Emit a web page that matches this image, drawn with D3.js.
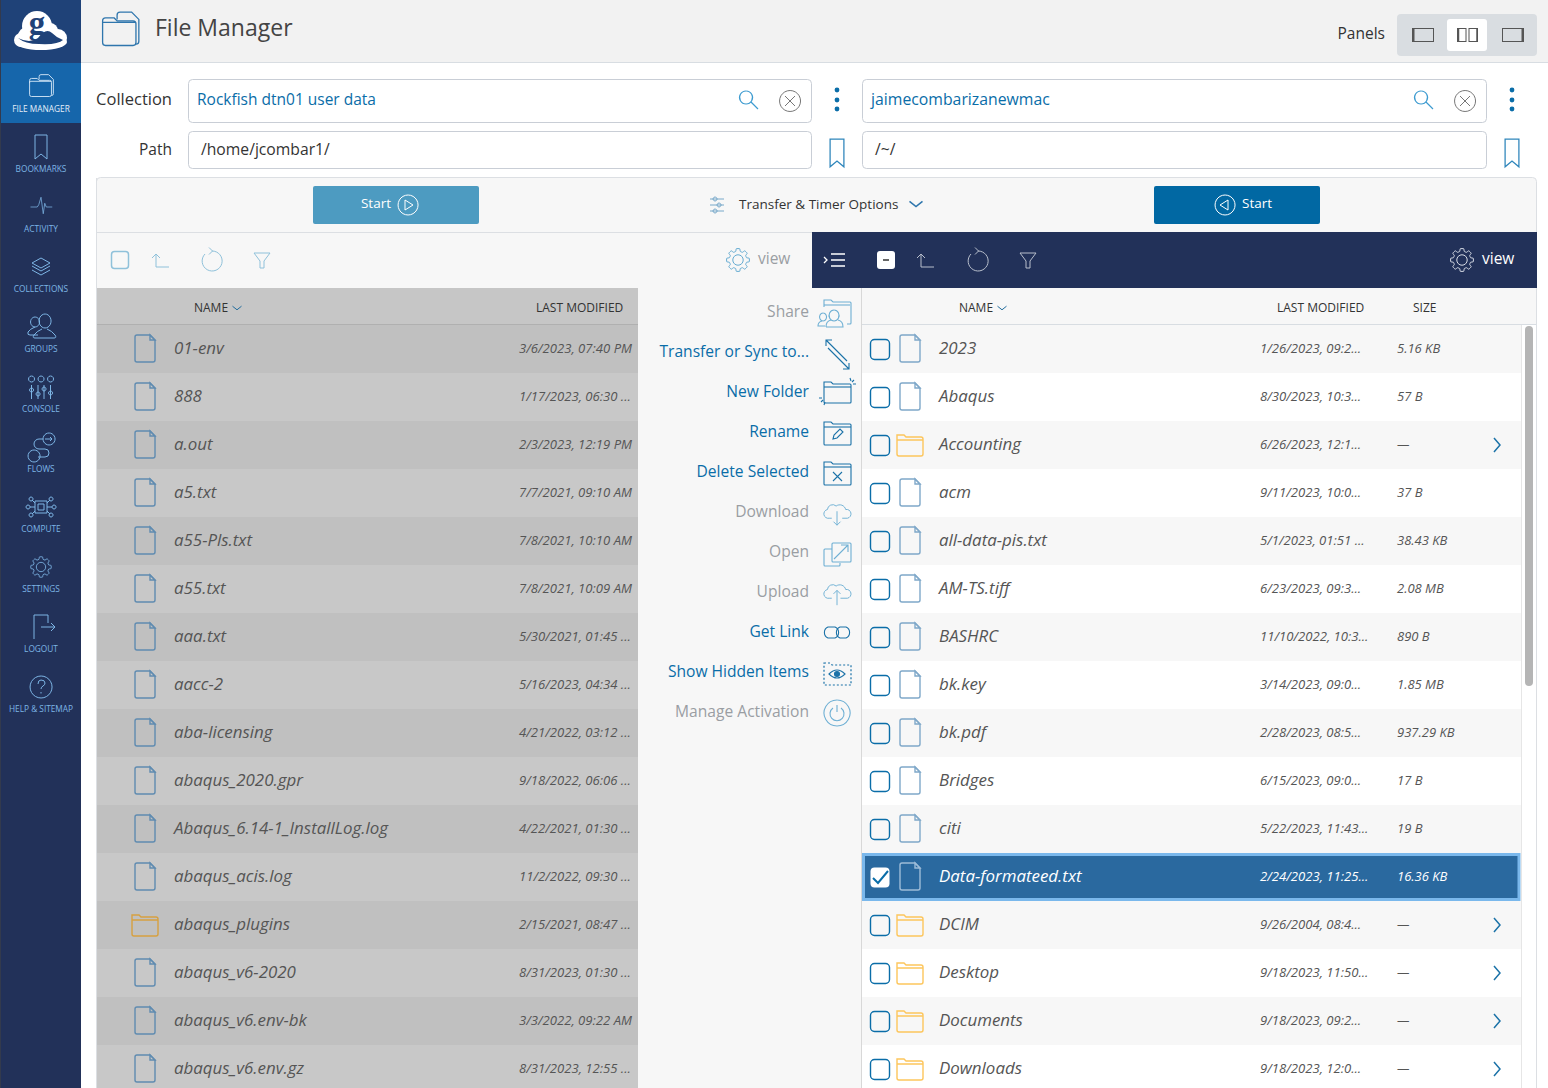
<!DOCTYPE html>
<html>
<head>
<meta charset="utf-8">
<title>File Manager</title>
<script src="https://cdn.jsdelivr.net/npm/d3@7"></script>
<style>
  html, body { margin: 0; padding: 0; background: #fff; overflow: hidden; }
  svg { display: block; }
  text { font-family: "Open Sans", sans-serif; }
</style>
</head>
<body>
<svg id="page" width="1548" height="1088"></svg>
<script>
// sidebar
var navLabels = ['FILE MANAGER', 'BOOKMARKS', 'ACTIVITY', 'COLLECTIONS', 'GROUPS', 'CONSOLE', 'FLOWS', 'COMPUTE', 'SETTINGS', 'LOGOUT', 'HELP & SITEMAP'];
var navIcons = ['fileManager', 'bookmark', 'pulse', 'stack', 'groups', 'console', 'flows', 'compute', 'gear', 'logout', 'help'];

// middle column
var actionLabels = ['Share', 'Transfer or Sync to...', 'New Folder', 'Rename', 'Delete Selected', 'Download', 'Open', 'Upload', 'Get Link', 'Show Hidden Items', 'Manage Activation'];
var actionIcons = ['share', 'transfer', 'newFolder', 'rename', 'deleteSel', 'download', 'open', 'upload', 'link', 'hidden', 'power'];
var actionEnabled = [0, 1, 1, 1, 1, 0, 0, 0, 1, 1, 0];

// left listing
var leftNames = ['01-env', '888', 'a.out', 'a5.txt', 'a55-Pls.txt', 'a55.txt', 'aaa.txt', 'aacc-2', 'aba-licensing', 'abaqus_2020.gpr', 'Abaqus_6.14-1_InstallLog.log', 'abaqus_acis.log', 'abaqus_plugins', 'abaqus_v6-2020', 'abaqus_v6.env-bk', 'abaqus_v6.env.gz'];
var leftDates = ['3/6/2023, 07:40 PM', '1/17/2023, 06:30 ...', '2/3/2023, 12:19 PM', '7/7/2021, 09:10 AM', '7/8/2021, 10:10 AM', '7/8/2021, 10:09 AM', '5/30/2021, 01:45 ...', '5/16/2023, 04:34 ...', '4/21/2022, 03:12 ...', '9/18/2022, 06:06 ...', '4/22/2021, 01:30 ...', '11/2/2022, 09:30 ...', '2/15/2021, 08:47 ...', '8/31/2023, 01:30 ...', '3/3/2022, 09:22 AM', '8/31/2023, 12:55 ...'];
var leftFolder = [0, 0, 0, 0, 0, 0, 0, 0, 0, 0, 0, 0, 1, 0, 0, 0];

// right listing
var rightNames = ['2023', 'Abaqus', 'Accounting', 'acm', 'all-data-pis.txt', 'AM-TS.tiff', 'BASHRC', 'bk.key', 'bk.pdf', 'Bridges', 'citi', 'Data-formateed.txt', 'DCIM', 'Desktop', 'Documents', 'Downloads'];
var rightDates = ['1/26/2023, 09:2...', '8/30/2023, 10:3...', '6/26/2023, 12:1...', '9/11/2023, 10:0...', '5/1/2023, 01:51 ...', '6/23/2023, 09:3...', '11/10/2022, 10:3...', '3/14/2023, 09:0...', '2/28/2023, 08:5...', '6/15/2023, 09:0...', '5/22/2023, 11:43...', '2/24/2023, 11:25...', '9/26/2004, 08:4...', '9/18/2023, 11:50...', '9/18/2023, 09:2...', '9/18/2023, 12:0...'];
var rightSizes = ['5.16 KB', '57 B', '—', '37 B', '38.43 KB', '2.08 MB', '890 B', '1.85 MB', '937.29 KB', '17 B', '19 B', '16.36 KB', '—', '—', '—', '—'];
var rightFolder = [0, 0, 1, 0, 0, 0, 0, 0, 0, 0, 0, 0, 1, 1, 1, 1];
var selectedRow = 11;

var svg = d3.select('#page');

function box(g, x, y, w, h, fill, stroke, r) {
  return g.append('rect').attr('x', x).attr('y', y).attr('width', w).attr('height', h)
    .attr('fill', fill).attr('stroke', stroke || 'none').attr('rx', r || 0);
}

function label(g, x, y, str, size, color, anchor, style) {
  return g.append('text').attr('x', x).attr('y', y).attr('font-size', size).attr('fill', color)
    .attr('text-anchor', anchor || 'start').attr('font-style', style || 'normal')
    .attr('dominant-baseline', 'central').text(str);
}

// gear outline, outer and inner radius with 8 teeth
function gearPath(r) {
  var pts = [], n = 8;
  for (var i = 0; i < n; i++) {
    var a = i / n * Math.PI * 2;
    [[-0.26, r * 0.78], [-0.15, r], [0.15, r], [0.26, r * 0.78]].forEach(function(p) {
      pts.push([Math.sin(a + p[0]) * p[1], -Math.cos(a + p[0]) * p[1]]);
    });
  }
  return d3.line().curve(d3.curveCardinalClosed.tension(0.6))(pts);
}

// line icons, all drawn around 0,0
var folderBody = 'M-13,-11 h7 l2,2 h17 q1,0 1,1 v19 q0,1 -1,1 h-25 q-1,0 -1,-1 z';
var iconPaths = {
  fileManager: ['M-12,-4 v-3 q0,-2 2,-2 h6 l2,2 h11 q2,0 2,2 v13 q0,2 -2,2 h-19 q-2,0 -2,-2 v-14 h23', 'M-2,-8 v-3 q0,-2 2,-2 h8 l5,5 v15 q0,2 -2,2'],
  bookmark: ['M-6,-12 h12 v24 l-6,-5 l-6,5 z'],
  pulse: ['M-14,0 h9 l2,-3 l3,-10 l3,22 l2,-14 l2,5 h8'],
  stack: ['M0,-9 l9,5 l-9,5 l-9,-5 z', 'M-9,-1 l9,5 l9,-5', 'M-9,3 l9,5 l9,-5'],
  groups: ['M-6,-10 a4.5,5 0 1 0 0.1,0', 'M4,-13 a6,7 0 1 0 0.1,0', 'M-3,8 h-8 q-3,0 -2,-3 q2,-3 7,-5', 'M-6,11 h19 q3,0 1,-3 q-3,-4 -8,-6 M-6,11 q-3,0 -1,-3 q3,-4 8,-6'],
  console: ['M-9.5,-11 a3,3 0 1 0 0.1,0 M0,-11 a3,3 0 1 0 0.1,0 M9.5,-11 a3,3 0 1 0 0.1,0', 'M-9.5,-2 v14 M-3,-2 v14 M3,-2 v14 M9.5,-2 v14', 'M-9.5,1 a2,2 0 1 0 0.1,0 M-3,5 a2,2 0 1 0 0.1,0 M3,0 a2,2 0 1 0 0.1,0 M9.5,4 a2,2 0 1 0 0.1,0'],
  flows: ['M8,-14 a6,6 0 1 0 0.1,0 M4,-8 h7 M9,-10 l2,2 l-2,2', 'M-7,3 a6,6 0 1 0 0.1,0', 'M2,-8 h-4 a5,5 0 0 0 0,10 h6 a4,4 0 0 1 0,8 h-7'],
  compute: ['M-6,-6 h12 v12 h-12 z M-3,-3 h6 v6 h-6 z', 'M-11,0 h5 M6,0 h5 M-9,-7 l3,3 M9,-7 l-3,3 M-9,7 l3,-3 M9,7 l-3,-3',
    'M-13,-2 a2,2 0 1 0 0.1,0 M13,-2 a2,2 0 1 0 0.1,0 M-10,-10 a2,2 0 1 0 0.1,0 M10,-10 a2,2 0 1 0 0.1,0 M-10,6 a2,2 0 1 0 0.1,0 M10,6 a2,2 0 1 0 0.1,0'],
  gear: [],
  logout: ['M7,-4 v-8 h-14 v24', 'M0,0 h14 M10,-4 l4,4 l-4,4'],
  help: ['M0,-11 a11,11 0 1 0 0.1,0', 'M-3,-3 q0,-4 3,-4 q4,0 4,3 q0,2 -2,3 q-2,1 -2,3 M0,5 v1.5'],
  share: ['M-13,-6 v-7 h7 l2,2 h17 q1,0 1,1 v20 q0,1 -1,1 h-3', 'M-13,-8 h26', 'M-3,-3 a5,5.5 0 1 0 0.1,0', 'M-14,0 a3.5,4 0 1 0 0.1,0', 'M-11,14 h17 q0,-6 -5,-7 M-11,14 q0,-6 5,-7 M-12,13 h-7 q0,-4 4,-5'],
  transfer: ['M-11,-13 l21,21 M-5,-13 h-6 v6', 'M-9,-5 l21,21 M12,10 v6 h-6'],
  newFolder: [folderBody.replace('v19', 'v17'), 'M-13,-6 h27', 'M17,-13 l-2,2 M19,-9 h-3 M13,-15 l1,3 M-16,9 l2,-2 M-18,5 h3 M-13,12 l1,-3'],
  rename: [folderBody, 'M-13,-6 h27', 'M-4,6 l1,-4 l6,-6 l3,3 l-6,6 z'],
  deleteSel: [folderBody, 'M-13,-6 h27', 'M-4,-1 l9,9 M5,-1 l-9,9'],
  download: ['M-6,6 h-3 a5,5 0 0 1 -2,-10 a6,6 0 0 1 10,-4 a7,7 0 0 1 11,4 a5,5 0 0 1 2,10 h-6', 'M0,-2 v16 M-4,10 l4,4 l4,-4'],
  open: ['M-5,-9 q0,-1 1,-1 h17 q1,0 1,1 v17 q0,1 -1,1 h-17 q-1,0 -1,-1 z', 'M-5,-4 h-7 q-1,0 -1,1 v15 q0,1 1,1 h14 q1,0 1,-1 v-2', 'M-3,6 l14,-14 M4,-8 h7 v7'],
  upload: ['M-6,6 h-3 a5,5 0 0 1 -2,-10 a6,6 0 0 1 10,-4 a7,7 0 0 1 11,4 a5,5 0 0 1 2,10 h-8', 'M0,-3 v17 M-4,1 l4,-4 l4,4'],
  link: ['M-2,-6 h-7 a6,6 0 0 0 0,11 h7 a6,6 0 0 0 0,-11 z', 'M3,-6 h6 a6,6 0 0 1 0,11 h-6 a6,6 0 0 1 0,-11 z'],
  hidden: ['M-13,-10 h6 l2,2 h19 v20 h-27 z'],
  power: ['M0,-13 a13,13 0 1 0 0.1,0', 'M-4,-5 a7,7 0 1 0 8,0 M0,-8 v7'],
  up: ['M-8,-3 l4,-4 l4,4 M-4,-6 v12 h13'],
  refresh: ['M0,-10 A10,10 0 1 1 -7,-7', 'M-3,-13.5 l3.5,3.5 l-3.5,3.5'],
  filter: ['M-8,-7 h16 l-6,8 v7 h-4 v-7 z'],
  search: ['M-3,-9 a6.5,6.5 0 1 0 0.1,0 M2,2 l7,7'],
  clear: ['M0,-10.5 a10.5,10.5 0 1 0 0.1,0 M-5,-5 l10,10 M5,-5 l-10,10'],
  sliders: ['M-7,-6 h14 M-7,0 h14 M-7,6 h14', 'M-2,-8 a2,2 0 1 0 0.1,0 M2,-2 a2,2 0 1 0 0.1,0 M-2,4 a2,2 0 1 0 0.1,0'],
  file: ['M-8,-13 h13 l5,5 v20 q0,2 -2,2 h-16 q-2,0 -2,-2 v-23 q0,-2 2,-2 z', 'M5,-13 v5 h5 z'],
  folder: ['M-13,-10 h7 l2,2 h15 q2,0 2,2 v15 q0,2 -2,2 h-22 q-2,0 -2,-2 z M-13,-5 h26'],
  chevDown: ['M-5,-2 l5,4 l5,-4'],
  chevRight: ['M-3,-7 l6,7 l-6,7'],
  playL: ['M3,-5 l-8,5 l8,5 z M0,-10 a10,10 0 1 0 0.1,0'],
  playR: ['M-3,-5 l8,5 l-8,5 z M0,-10 a10,10 0 1 0 0.1,0']
};

function icon(g, name, x, y, color, width, scale) {
  var t = g.append('g').attr('transform', 'translate(' + x + ',' + y + ') scale(' + (scale || 1) + ')')
    .attr('fill', 'none').attr('stroke', color).attr('stroke-width', width || 1.2);
  if (name == 'gear') {
    t.append('path').attr('d', gearPath(12));
    t.append('circle').attr('r', 5.5);
  } else {
    iconPaths[name].forEach(function(d) { t.append('path').attr('d', d); });
  }
  return t;
}

// ---------- sidebar ----------
var side = svg.append('g');
box(side, 0, 0, 81, 1088, '#223159');
box(side, 0, 0, 81, 63, '#1f4278');
box(side, 0, 63, 81, 60, '#1666ab');
box(side, 0, 0, 1, 1088, '#333a4d');

// logo, the cloud is a few overlapping blobs
var logo = side.append('g').attr('fill', '#fff');
[[37, 26, 15], [27, 36, 9], [50, 31, 8], [58, 38, 9], [21, 40, 7]].forEach(function(c) {
  logo.append('circle').attr('cx', c[0]).attr('cy', c[1]).attr('r', c[2]);
});
logo.append('ellipse').attr('cx', 41).attr('cy', 42).attr('rx', 26).attr('ry', 8);
side.append('path').attr('d', 'M18,38 q12,6 20,0 q8,-11 14,-5 q5,5 11,7 q-5,5 -24,4 q-14,0 -21,-6 z').attr('fill', '#1f4278');
logo.append('ellipse').attr('cx', 39).attr('cy', 41).attr('rx', 12).attr('ry', 3);
label(side, 37, 23, 'g', 33, '#1f4278', 'middle').attr('font-weight', 'bold').style('font-family', 'Liberation Serif, serif');

var navY = d3.scaleLinear().domain([0, 1]).range([87, 147]);
var navScale = { pulse: 0.75, compute: 1, gear: 0.85, bookmark: 1, fileManager: 0.95 };
navLabels.forEach(function(d, i) {
  var c = i == 0 ? '#cfe3f4' : '#7db5e5';
  icon(side, navIcons[i], 41, navY(i), c, 1, navScale[navIcons[i]] || 1);
  label(side, 41, navY(i) + 21.5, d, 8.3, i == 0 ? '#e4eff9' : '#7db5e5', 'middle');
});

// ---------- header ----------
var head = svg.append('g');
box(head, 81, 0, 1467, 62, '#f2f2f2');
head.append('line').attr('x1', 81).attr('x2', 1548).attr('y1', 62.5).attr('y2', 62.5).attr('stroke', '#d8dde2');
icon(head, 'fileManager', 120, 31, '#2f76ad', 0.9, 1.45);
label(head, 155, 27, 'File Manager', 23, '#444');
label(head, 1385, 33, 'Panels', 15.5, '#333', 'end');
box(head, 1397, 14, 140, 42, '#d9dde1', null, 4);
box(head, 1447, 19, 40, 32, '#fff', null, 3);
[1412, 1502].forEach(function(x, i) {
  var pg = head.append('g').attr('fill', 'none').attr('stroke', '#555');
  pg.append('rect').attr('x', x + 0.5).attr('y', 28.5).attr('width', 21).attr('height', 13);
  var edge = i == 0 ? x + 1.5 : x + 20.5;
  pg.append('line').attr('x1', edge).attr('x2', edge).attr('y1', 28).attr('y2', 42).attr('stroke-width', 2);
});
[1457.5, 1469].forEach(function(x, i) {
  head.append('rect').attr('x', x).attr('y', 28.5).attr('width', 8.5).attr('height', 13)
    .attr('fill', 'none').attr('stroke', '#555');
  var edge = i == 0 ? x + 1 : x + 8;
  head.append('line').attr('x1', edge).attr('x2', edge).attr('y1', 28).attr('y2', 42).attr('stroke', '#555').attr('stroke-width', 1.5);
});

// ---------- collection and path ----------
var form = svg.append('g');
label(form, 172, 98, 'Collection', 16.5, '#333', 'end');
label(form, 172, 149, 'Path', 15.5, '#333', 'end');
[[188.5, 'Rockfish dtn01 user data', '/home/jcombar1/', 749], [862.5, 'jaimecombarizanewmac', '/~/', 1424]].forEach(function(p, i) {
  var w = i == 0 ? 623 : 624;
  box(form, p[0], 79.5, w, 43, '#fff', '#c9ced6', 4);
  box(form, p[0], 131.5, w, 37, '#fff', '#c9ced6', 4);
  label(form, p[0] + 8.5, 99, p[1], i == 0 ? 15.5 : 15.8, '#0a6da8');
  label(form, p[0] + 12.5, 149, p[2], 15.7, '#333');
  icon(form, 'search', p[3], 100, '#3d9bd0', 1.2);
  icon(form, 'clear', p[3] + 41, 101, '#777', 1);
  var dotX = i == 0 ? 837 : 1512;
  [90, 100, 109].forEach(function(y) { form.append('circle').attr('cx', dotX).attr('cy', y).attr('r', 2.4).attr('fill', '#0a6da8'); });
  icon(form, 'bookmark', dotX, 153, '#2f86bb', 1.1, 1.15);
});

// ---------- transfer bar ----------
var bar = svg.append('g');
box(bar, 96.5, 177.5, 1440, 60, '#f7f7f7', '#dcdfe3', 4);
box(bar, 97, 232, 715, 56, '#f7f7f7');
bar.append('line').attr('x1', 97).attr('x2', 812).attr('y1', 232.5).attr('y2', 232.5).attr('stroke', '#dcdfe3');
box(bar, 313, 186, 166, 38, '#4d9bc1', null, 2);
box(bar, 1154, 186, 166, 38, '#0168a3', null, 2);
label(bar, 391, 203, 'Start', 13.5, '#fff', 'end');
icon(bar, 'playR', 408, 205, '#fff', 1);
icon(bar, 'playL', 1225, 205, '#fff', 1);
label(bar, 1242, 203, 'Start', 13.5, '#fff');
icon(bar, 'sliders', 717, 205, '#6a9fc4', 0.9);
label(bar, 739, 204, 'Transfer & Timer Options', 13.5, '#333');
icon(bar, 'chevDown', 916, 204, '#2f76ad', 1.2, 1.3);

// ---------- panel toolbars ----------
var tools = svg.append('g');
box(tools, 111.5, 251.5, 17, 17, 'none', '#8fc1da', 3).attr('stroke-width', 1.5);
icon(tools, 'up', 160, 261, '#8fc1da', 1);
icon(tools, 'refresh', 212, 261, '#8fc1da', 1);
icon(tools, 'filter', 262, 260, '#8fc1da', 1);
icon(tools, 'gear', 738, 260, '#5da7cf', 1, 0.95);
label(tools, 758, 258, 'view', 15.5, '#9a9ea3');

box(tools, 812, 232, 725, 56, '#223159');
tools.append('path').attr('d', 'M824,257 l3,3 l-3,3 M831,254 h14 M831,260 h14 M831,266 h14').attr('fill', 'none').attr('stroke', '#fff').attr('stroke-width', 1.3);
box(tools, 877, 251, 18, 18, '#fff', null, 3);
box(tools, 883, 259, 6, 2, '#666');
icon(tools, 'up', 925, 261, '#b8bfcc', 1);
icon(tools, 'refresh', 978, 261, '#b8bfcc', 1);
icon(tools, 'filter', 1028, 260, '#b8bfcc', 1);
icon(tools, 'gear', 1462, 260, '#dfe4ec', 1, 0.95);
label(tools, 1482, 258, 'view', 15.5, '#fff');

// ---------- rows ----------
var rowY = d3.scaleBand().domain(d3.range(16)).range([325, 1093]).paddingInner(0);
var rowMid = function(i) { return rowY(i) + rowY.bandwidth() / 2; };

// left panel, dimmed
var left = svg.append('g');
box(left, 97, 288, 541, 37, '#c6c6c6');
left.append('line').attr('x1', 97).attr('x2', 638).attr('y1', 324.5).attr('y2', 324.5).attr('stroke', '#b0b0b0');
label(left, 194, 307, 'NAME', 12, '#333');
icon(left, 'chevDown', 237, 308, '#1f6b9c', 1.1, 0.9);
label(left, 536, 307, 'LAST MODIFIED', 12, '#333');

var leftRows = left.selectAll('g.row').data(leftNames).join('g').attr('class', 'row');
leftRows.append('rect').attr('x', 97).attr('y', function(d, i) { return rowY(i); })
  .attr('width', 541).attr('height', rowY.bandwidth())
  .attr('fill', function(d, i) { return i % 2 ? '#c8c8c8' : '#c0c0c0'; });
leftRows.each(function(d, i) {
  var r = d3.select(this);
  if (leftFolder[i]) icon(r, 'folder', 145, rowMid(i), '#d6a040', 1.4);
  else icon(r, 'file', 145, rowMid(i) - 1, '#5f8bb0', 1.4);
  label(r, 174, rowMid(i) - 1.5, d, 16.9, '#555', 'start', 'italic');
  label(r, 519, rowMid(i) - 1, leftDates[i], 13.1, '#555', 'start', 'italic');
});

// middle column
var mid = svg.append('g');
box(mid, 638, 288, 224, 800, '#f7f7f7');
mid.append('line').attr('x1', 861.5).attr('x2', 861.5).attr('y1', 288).attr('y2', 1088).attr('stroke', '#d8d8d8');
var actionY = d3.scaleLinear().domain([0, 1]).range([311, 351]);
actionLabels.forEach(function(d, i) {
  label(mid, 809, actionY(i), d, 15.6, actionEnabled[i] ? '#0a6da8' : '#9a9ea3', 'end');
  var c = actionEnabled[i] ? '#1b72a8' : '#6fb0d4';
  var name = actionIcons[i];
  var ig = icon(mid, name, 837, actionY(i) + 2, c, 1.1, name == 'download' || name == 'upload' ? 0.87 : 1);
  if (name == 'hidden') {
    ig.selectAll('path').attr('stroke-dasharray', '2,2').attr('stroke-width', 1.2);
    ig.append('path').attr('d', 'M-8,1 q8,-8 16,0 q-8,8 -16,0 z');
    ig.append('circle').attr('cy', 1).attr('r', 2.5).attr('fill', c);
  }
});

// right panel
var right = svg.append('g');
box(right, 862, 288, 675, 800, '#fff');
box(right, 862, 288, 675, 37, '#f7f7f7');
right.append('line').attr('x1', 862).attr('x2', 1537).attr('y1', 324.5).attr('y2', 324.5).attr('stroke', '#d8dde2');
label(right, 959, 307, 'NAME', 12, '#333');
icon(right, 'chevDown', 1002, 308, '#1f6b9c', 1.1, 0.9);
label(right, 1277, 307, 'LAST MODIFIED', 12, '#333');
label(right, 1413, 307, 'SIZE', 12, '#333');

var rightRows = right.selectAll('g.row').data(rightNames).join('g').attr('class', 'row');
rightRows.append('rect').attr('x', 862).attr('y', function(d, i) { return rowY(i); })
  .attr('width', 660).attr('height', rowY.bandwidth())
  .attr('fill', function(d, i) { return i % 2 ? '#fff' : '#f7f7f7'; });
rightRows.each(function(d, i) {
  var r = d3.select(this), sel = i == selectedRow;
  var txt = sel ? '#fff' : '#555';
  if (sel) {
    box(r, 863.5, rowY(i) + 1.5, 655.5, 45, '#2a699f', '#7ab8ec').attr('stroke-width', 3);
  }
  box(r, 870.5, rowMid(i) - 9.5, 19, 20, sel ? '#fff' : 'none', '#0a6da8', 4).attr('stroke-width', sel ? 0 : 1.4);
  if (sel) r.append('path').attr('d', 'M873,' + (rowMid(i) + 1) + ' l5,5 l10,-12').attr('fill', 'none').attr('stroke', '#0a6da8').attr('stroke-width', 2);
  if (rightFolder[i]) icon(r, 'folder', 910, rowMid(i), '#fdc65c', 1.4);
  else icon(r, 'file', 910, rowMid(i) - 1, sel ? '#9dbcd8' : '#7fa8c9', 1.4);
  label(r, 939, rowMid(i) - 1.5, d, 16.9, txt, 'start', 'italic');
  label(r, 1260, rowMid(i) - 1, rightDates[i], 13.1, txt, 'start', 'italic');
  label(r, 1397, rowMid(i) - 1, rightSizes[i], 13, txt, 'start', 'italic');
  if (rightFolder[i]) icon(r, 'chevRight', 1497, rowMid(i), '#1b72a8', 1.5);
});

// scrollbar and frame
box(right, 1525, 326, 8, 360, '#b5b5b5', null, 4);
right.append('line').attr('x1', 1521.5).attr('x2', 1521.5).attr('y1', 325).attr('y2', 1088).attr('stroke', '#e6e6e6');
right.append('line').attr('x1', 1536.5).attr('x2', 1536.5).attr('y1', 288).attr('y2', 1088).attr('stroke', '#dcdfe3');
svg.append('line').attr('x1', 96.5).attr('x2', 96.5).attr('y1', 178).attr('y2', 1088).attr('stroke', '#dcdfe3');
</script>
</body>
</html>
